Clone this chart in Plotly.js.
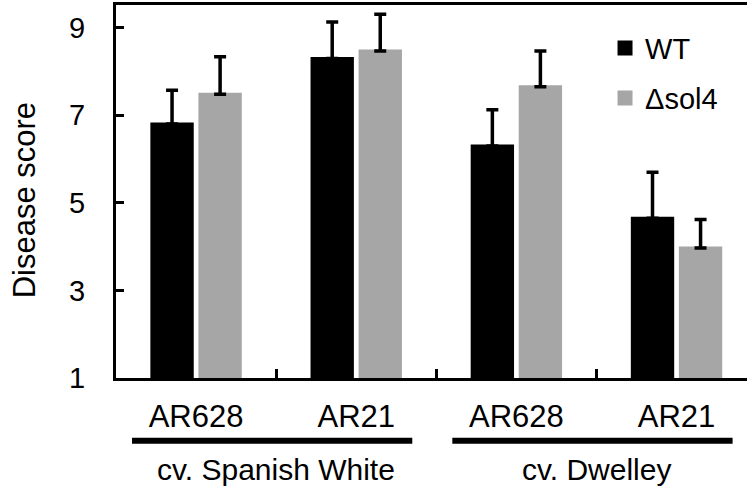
<!DOCTYPE html>
<html>
<head>
<meta charset="utf-8">
<script src="https://cdn.plot.ly/plotly-3.0.1.min.js"></script>
<style>html,body{margin:0;padding:0;background:#fff;}#chart{width:747px;height:489px;}</style>
</head>
<body>
<div id="chart"></div>
<script>
// Data
const categories = ["SW-AR628", "SW-AR21", "DW-AR628", "DW-AR21"];
const tickLabels = ["AR628", "AR21", "AR628", "AR21"];
const wtValues = [6.8, 8.3, 6.3, 4.65];
const wtErrors = [0.77, 0.83, 0.83, 1.05];
const sol4Values = [7.48, 8.47, 7.65, 3.97];
const sol4Errors = [0.86, 0.84, 0.82, 0.65];
const seriesNames = ["WT", "\u0394sol4"];
const yTitle = "Disease score";
const groupNames = ["cv. Spanish White", "cv. Dwelley"];
const groupStart = [0, 2];
const groupEnd = [1, 3];

const FONT = "Liberation Sans, Arial, sans-serif";

const zeros = wtValues.map(() => 0);
const traces = [
  {
    type: "bar", name: seriesNames[0], x: categories, y: wtValues,
    marker: {color: "#000000", line: {color: "#000000", width: 3}}, legend: "legend",
    error_y: {type: "data", symmetric: false, array: wtErrors, arrayminus: zeros,
              color: "#000000", thickness: 3.5, width: 6}
  },
  {
    type: "bar", name: seriesNames[1], x: categories, y: sol4Values,
    marker: {color: "#a6a6a6", line: {color: "#a6a6a6", width: 3}}, legend: "legend2",
    error_y: {type: "data", symmetric: false, array: sol4Errors, arrayminus: zeros,
              color: "#000000", thickness: 3.5, width: 6}
  }
];

const shapes = [];
const annotations = [];
groupNames.forEach((g, i) => {
  shapes.push({type: "line", xref: "x", yref: "paper",
    x0: groupStart[i] - 0.4, x1: groupEnd[i] + 0.35, y0: -0.168, y1: -0.168,
    line: {color: "#000", width: 6}});
  annotations.push({xref: "x", yref: "paper", x: (groupStart[i] + groupEnd[i]) / 2,
    y: -0.246, yanchor: "middle", xanchor: "center", showarrow: false, text: g,
    font: {family: FONT, size: 30, color: "#000"}});
});
// y-axis title
annotations.push({xref: "paper", yref: "paper", x: -0.145, y: 0.475,
  xanchor: "center", yanchor: "middle", textangle: -90, showarrow: false, text: yTitle,
  font: {family: FONT, size: 31, color: "#000"}});

const layout = {
  width: 747, height: 489,
  margin: {l: 116, r: 0, t: 5, b: 111, pad: 0},
  paper_bgcolor: "#fff", plot_bgcolor: "#fff",
  barmode: "group", bargap: 0.4, bargroupgap: 0.16,
  showlegend: true,
  font: {family: FONT, color: "#000"},
  xaxis: {
    type: "category", range: [-0.5, 3.44],
    tickmode: "array", tickvals: categories, ticktext: tickLabels,
    tickson: "boundaries", ticks: "inside", ticklen: 9, tickwidth: 3, tickcolor: "#000",
    showline: true, linewidth: 3, linecolor: "#000", mirror: true,
    showgrid: false, zeroline: false,
    tickfont: {family: FONT, size: 31, color: "#000"},
    ticklabelstandoff: 9
  },
  yaxis: {
    range: [1, 9.52], tickvals: [1, 3, 5, 7, 9],
    ticks: "inside", ticklen: 8, tickwidth: 3, tickcolor: "#000",
    showline: true, linewidth: 3, linecolor: "#000",
    showgrid: false, zeroline: false,
    tickfont: {family: FONT, size: 29, color: "#000"},
    ticklabelstandoff: 22
  },
  legend: {x: 0.775, y: 0.884, xanchor: "left", yanchor: "middle", bgcolor: "rgba(0,0,0,0)",
    font: {family: FONT, size: 29, color: "#000"}},
  legend2: {x: 0.775, y: 0.75, xanchor: "left", yanchor: "middle", bgcolor: "rgba(0,0,0,0)",
    font: {family: FONT, size: 29, color: "#000"}},
  shapes: shapes,
  annotations: annotations
};

Plotly.newPlot("chart", traces, layout, {displayModeBar: false, staticPlot: true});
</script>
</body>
</html>
